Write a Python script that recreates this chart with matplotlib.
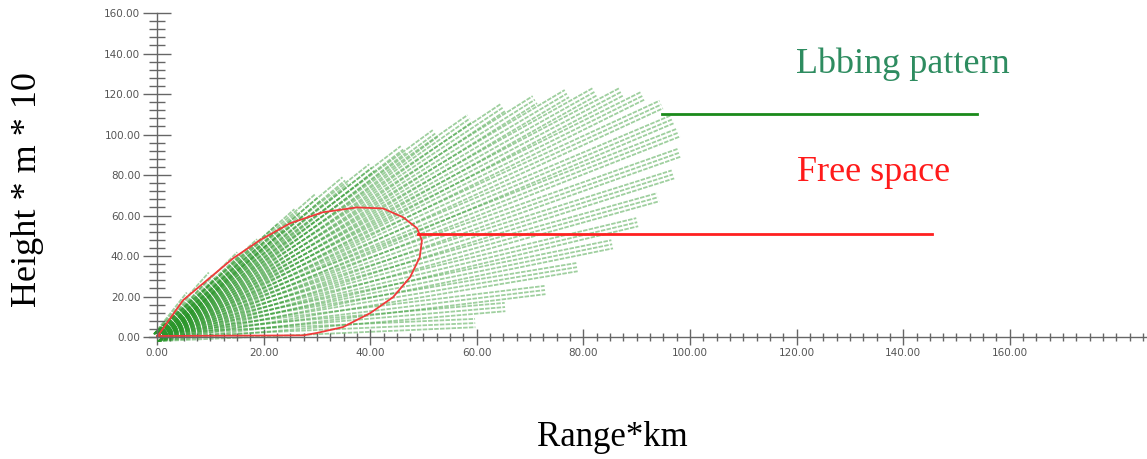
import numpy as np
import matplotlib.pyplot as plt
import matplotlib.patheffects as pe
from matplotlib.ticker import MultipleLocator, FixedLocator, FormatStrFormatter

# Lobing pattern: tip of each lobe (range km, height m*10), rays start at origin
lobe_range = [6.2, 10.3, 15.6, 19.3, 23.1, 26.3, 30.2, 35.3, 40.3, 46.2,
              52.2, 58.7, 64.9, 70.9, 76.9, 82.2, 87.2, 91.2, 94.6, 96.6,
              97.9, 98.1, 96.8, 94.0, 90.1, 85.4, 78.8, 72.8, 65.3, 59.7]
lobe_height = [20.7, 30.5, 40.4, 46.8, 54.2, 61.6, 69.0, 77.3, 83.7, 92.6,
               100.5, 107.9, 113.3, 117.2, 120.2, 121.2, 121.2, 119.2, 114.8, 107.4,
               101.0, 91.1, 80.3, 69.0, 56.7, 45.8, 34.5, 23.2, 14.8, 6.9]

# Free space pattern outline
free_range = [0.0, 4.9, 9.4, 14.3, 19.3, 25.0, 31.1, 37.5, 42.4, 46.2, 48.8,
              49.7, 49.3, 47.5, 44.3, 40.0, 34.9, 30.0, 27.4, 0.0]
free_height = [0.0, 18.2, 28.1, 38.9, 47.8, 56.2, 61.6, 64.0, 63.5, 59.1, 53.7,
               47.8, 39.4, 29.6, 19.7, 11.8, 4.9, 2.0, 0.8, 0.5]

# pointer lines for the annotations
green_ptr_x = [94.7, 153.8]
green_ptr_y = [110.3, 110.3]
red_ptr_x = [49.0, 145.4]
red_ptr_y = [50.7, 50.7]

x_major = [0, 20, 40, 60, 80, 100, 120, 140, 160]
y_major = [0, 20, 40, 60, 80, 100, 120, 140, 160]

W, H = 1147, 459
fig = plt.figure(figsize=(W / 100, H / 100), dpi=100)

# axes placed so that data (0,0) lands at pixel (157, 337)
x0_px, x1_px = 149, 1147
y_top_px, y_bot_px = 13, 345
ax = fig.add_axes([x0_px / W, (H - y_bot_px) / H,
                   (x1_px - x0_px) / W, (y_bot_px - y_top_px) / H])
ax.set_xlim(-1.5, (x1_px - 157) / 5.33)
ax.set_ylim(-8 / 2.03, 160)

# each lobe drawn as a hatched ribbon: three dashed strokes offset across the ray
for r, h in zip(lobe_range, lobe_height):
    (p0x, p0y), (p1x, p1y) = ax.transData.transform([(0, 0), (r, h)])
    ang = np.arctan2(p1y - p0y, p1x - p0x)
    nx, ny = -np.sin(ang), np.cos(ang)
    ribbon = [pe.Stroke(offset=(k * nx, k * ny)) for k in (-3.0, 0.0, 3.0)]
    ax.plot([0, r], [0, h], color='#2a962a', lw=1.3, alpha=0.45,
            dashes=(2.5, 0.7), path_effects=ribbon, zorder=2)

ax.plot(free_range, free_height, color='#f03a3a', lw=1.3, zorder=3)
ax.plot(red_ptr_x, red_ptr_y, color='#ff2020', lw=2.0, zorder=3, clip_on=False)
ax.plot(green_ptr_x, green_ptr_y, color='#1a8a1a', lw=2.0, zorder=3, clip_on=False)

# axes through the origin, cross ticks
for s in ['top', 'right']:
    ax.spines[s].set_visible(False)
ax.spines['left'].set_position(('data', 0))
ax.spines['bottom'].set_position(('data', 0))
ax.spines['left'].set_bounds(0, 160)
for s in ['left', 'bottom']:
    ax.spines[s].set_color('#666666')
    ax.spines[s].set_linewidth(1.0)
    ax.spines[s].set_zorder(4)
ax.patch.set_alpha(0)

ax.xaxis.set_major_locator(FixedLocator(x_major))
ax.xaxis.set_minor_locator(MultipleLocator(2.5))
ax.yaxis.set_major_locator(FixedLocator(y_major))
ax.yaxis.set_minor_locator(MultipleLocator(4))
ax.xaxis.set_major_formatter(FormatStrFormatter('%.2f'))
ax.yaxis.set_major_formatter(FormatStrFormatter('%.2f'))
ax.tick_params(axis='x', which='major', direction='inout', length=12, width=1,
               color='#666666', labelsize=7.5, labelcolor='#555555', pad=2)
ax.tick_params(axis='x', which='minor', direction='inout', length=6, width=1,
               color='#666666')
ax.tick_params(axis='y', which='major', direction='inout', length=20, width=1,
               color='#666666', labelsize=7.5, labelcolor='#555555', pad=2)
ax.tick_params(axis='y', which='minor', direction='inout', length=11, width=1,
               color='#666666')

serif = 'Liberation Serif'
fig.text(612 / W, 1 - 437 / H, 'Range*km', family=serif, fontsize=25,
         ha='center', va='center', color='black')
fig.text(28 / W, 1 - 190 / H, 'Height * m * 10', family=serif, fontsize=26,
         ha='center', va='center', rotation=90, color='black')
fig.text(796 / W, 1 - 73 / H, 'Lbbing pattern', family=serif, fontsize=26,
         ha='left', va='baseline', color='#2e8c60')
fig.text(797 / W, 1 - 181 / H, 'Free space', family=serif, fontsize=26,
         ha='left', va='baseline', color='#ff1a1a')

fig.savefig('out.png', dpi=100)
